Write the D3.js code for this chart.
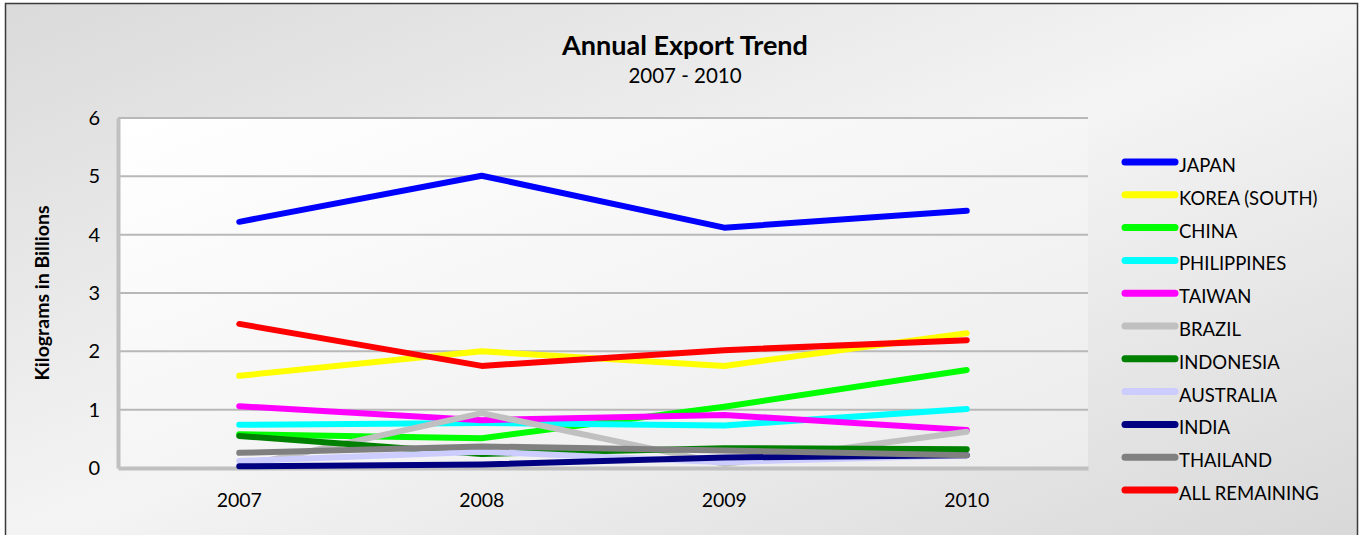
<!DOCTYPE html>
<html><head><meta charset="utf-8">
<script src="https://cdn.jsdelivr.net/npm/d3@7"></script>
<style>html,body{margin:0;padding:0;background:#fff;}svg{display:block;font-family:Lato,"Open Sans",sans-serif;}</style>
</head><body>
<svg id="c" width="1364" height="535"></svg>
<script>
const years = ["2007","2008","2009","2010"];
const seriesNames = ["JAPAN","KOREA (SOUTH)","CHINA","PHILIPPINES","TAIWAN","BRAZIL","INDONESIA","AUSTRALIA","INDIA","THAILAND","ALL REMAINING"];
const seriesColors = ["#0000ff","#ffff00","#00ff00","#00ffff","#ff00ff","#c0c0c0","#008000","#ccccff","#000080","#808080","#ff0000"];
const japan = [4.22, 5.01, 4.12, 4.41];
const korea = [1.58, 2.00, 1.75, 2.31];
const china = [0.58, 0.51, 1.05, 1.68];
const philippines = [0.74, 0.77, 0.73, 1.01];
const taiwan = [1.06, 0.82, 0.91, 0.65];
const brazil = [0.02, 0.94, 0.07, 0.62];
const indonesia = [0.55, 0.24, 0.34, 0.32];
const australia = [0.12, 0.28, 0.10, 0.22];
const india = [0.03, 0.06, 0.18, 0.22];
const thailand = [0.26, 0.37, 0.30, 0.22];
const allRemaining = [2.47, 1.75, 2.02, 2.19];
const seriesValues = [japan, korea, china, philippines, taiwan, brazil, indonesia, australia, india, thailand, allRemaining];
const yTicks = [0,1,2,3,4,5,6];

const svg = d3.select("#c");
const defs = svg.append("defs");
const g1 = defs.append("linearGradient").attr("id","bg").attr("x1","0").attr("y1","0").attr("x2","1").attr("y2","1");
g1.append("stop").attr("offset","0").attr("stop-color","#dadada");
g1.append("stop").attr("offset","0.5").attr("stop-color","#f4f4f4");
g1.append("stop").attr("offset","1").attr("stop-color","#d8d8d8");
const g2 = defs.append("linearGradient").attr("id","pbg").attr("x1","0").attr("y1","0").attr("x2","1").attr("y2","1");
g2.append("stop").attr("offset","0").attr("stop-color","#ffffff");
g2.append("stop").attr("offset","1").attr("stop-color","#ececec");

svg.append("rect").attr("x",5.5).attr("y",3.5).attr("width",1352).attr("height",540)
  .attr("fill","url(#bg)").attr("stroke","#3a3a3a").attr("stroke-width",1.5);

const L = 118, R = 1088, T = 118, B = 468;
const x = d3.scaleBand().domain(years).range([L, R]);
const y = d3.scaleLinear().domain([0, 6]).range([B, T]);

svg.append("rect").attr("x",L).attr("y",T).attr("width",R-L).attr("height",B-T).attr("fill","url(#pbg)");

// gridlines
svg.append("g").selectAll("line").data(yTicks.filter(d=>d>0)).join("line")
  .attr("x1",L).attr("x2",R).attr("y1",d=>y(d)).attr("y2",d=>y(d))
  .attr("stroke","#b8b8b8").attr("stroke-width",2);

// y axis
const ya = svg.append("g").attr("transform",`translate(${L},0)`)
  .call(d3.axisLeft(y).tickValues(yTicks).tickFormat(d3.format("d")).tickSize(0).tickPadding(18));
ya.select(".domain").attr("stroke","#c0c0c0").attr("stroke-width",4);
ya.selectAll("text").attr("font-size",20).attr("fill","#000").attr("font-family","Lato,sans-serif");

// x axis
const xa = svg.append("g").attr("transform",`translate(0,${B})`).call(d3.axisBottom(x).tickSize(0).tickPadding(25));
xa.select(".domain").attr("stroke","#c0c0c0").attr("stroke-width",4);
xa.selectAll("text").attr("font-size",19.5).attr("fill","#000").attr("font-family","Lato,sans-serif");

// lines
const line = d3.line().x((d,i)=>x(years[i]) + x.bandwidth()/2).y(d=>y(d));
svg.append("g").selectAll("path").data(seriesValues).join("path")
  .attr("d", d=>line(d)).attr("fill","none")
  .attr("stroke",(d,i)=>seriesColors[i]).attr("stroke-width",6)
  .attr("stroke-linecap","round").attr("stroke-linejoin","round");

// titles
svg.append("text").attr("x",685).attr("y",55).attr("text-anchor","middle")
  .attr("font-size",27).attr("font-weight","bold").text("Annual Export Trend");
svg.append("text").attr("x",685).attr("y",83).attr("text-anchor","middle")
  .attr("font-size",20.5).text("2007 - 2010");
svg.append("text").attr("transform","translate(49,293) rotate(-90)").attr("text-anchor","middle")
  .attr("font-size",19.5).attr("font-weight","bold").text("Kilograms in Billions");

// legend
const lg = svg.append("g").selectAll("g").data(seriesNames).join("g")
  .attr("transform",(d,i)=>`translate(1123,${162 + i*32.8})`);
lg.append("line").attr("x1",2).attr("x2",52).attr("y1",0).attr("y2",0)
  .attr("stroke",(d,i)=>seriesColors[i]).attr("stroke-width",7).attr("stroke-linecap","round");
lg.append("text").attr("x",56).attr("y",10).attr("font-size",18.5).text(d=>d);
</script>
</body></html>
